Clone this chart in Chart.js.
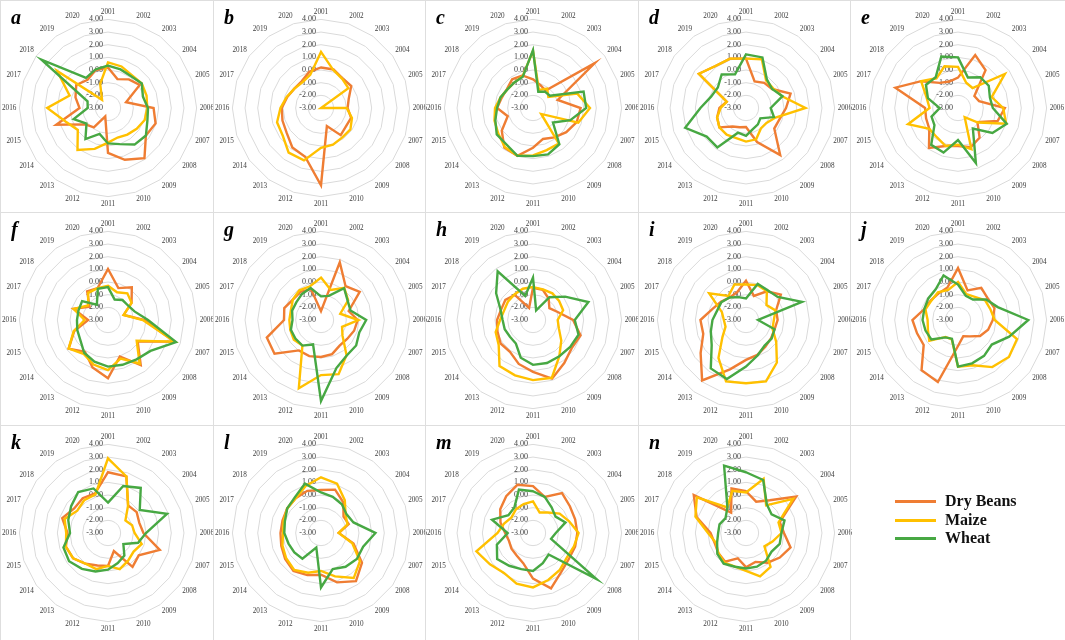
<!DOCTYPE html>
<html>
<head>
<meta charset="utf-8">
<script src="https://cdn.jsdelivr.net/npm/chart.js@4.4.1/dist/chart.umd.min.js"></script>
<style>
  body { margin: 0; background: #fff; }
  #wrap { position: relative; width: 1065px; height: 640px; overflow: hidden; background: #fff; }
  .cell { position: absolute; box-sizing: border-box; border: 1px solid #dedede; }
  .cell canvas { position: absolute; left: -1px; top: -1px; }
  .tag { position: absolute; left: 10px; top: 6px; font: italic bold 20px/20px "Liberation Serif", serif; color: #000; }
  .key { position: absolute; left: 44px; height: 20px; font: bold 16px/20px "Liberation Serif", serif; color: #111; }
  .key span { position: absolute; left: 0; top: 9px; width: 41px; height: 3px; }
  .key b { position: absolute; left: 50px; top: 0; white-space: nowrap; }
</style>
</head>
<body>
<div id="wrap"></div>
<script>
"use strict";

const years = ["2001", "2002", "2003", "2004", "2005", "2006", "2007", "2008", "2009", "2010",
  "2011", "2012", "2013", "2014", "2015", "2016", "2017", "2018", "2019", "2020"];
const seriesNames = ["Dry Beans", "Maize", "Wheat"];
const seriesColors = ["#ef7d33", "#ffc000", "#47a843"];
const tickValues = [-3, -2, -1, 0, 1, 2, 3, 4];

const beans_a = [0.2, -0.6, -0.2, 0.1, -1.5, 0.6, 0.95, 0.7, 1.9, 1.3, 0.55, -2.3, -1.1, -0.8, 1.3, -0.75, -0.3, 0.1, -0.25, 0.15];
const maize_a = [0.6, 0.45, 0.2, 0.3, 0.2, 0.1, 0.05, -0.2, -0.4, -0.55, -0.27, 0.4, 1.1, -0.05, 0.5, 1.8, 0.19, 1.97, -2.2, -1.0];
const wheat_a = [0.35, 0.2, 0.1, 0.3, -0.1, 0.16, 0.27, 0.7, 0.57, 0.0, -0.2, -0.85, 0.03, -0.9, -0.15, -1.4, -1.3, 3.5, -0.05, 0.2];

const beans_b = [0.2, 0.2, -0.1, -0.05, -0.7, -0.9, -0.5, -0.55, -0.35, -1.5, 3.1, 1.05, 0.85, 0.35, 0.2, 0.1, -0.2, -0.4, -0.4, 0.0];
const maize_b = [1.43, 0.15, -0.15, -0.33, -3.0, -0.97, -0.43, -0.13, -0.13, 0.05, 0.15, 1.35, 1.35, 0.73, 0.65, 0.2, -0.15, -0.4, -0.5, -0.25];
const wheat_b = [];

const beans_c = [-0.73, -1.1, -1.3, 3.03, -0.95, 0.76, 0.63, 0.25, -0.13, -0.43, 0.14, 0.97, 0.86, 0.05, -0.9, -0.16, -0.4, -0.45, -0.2, -0.3];
const maize_c = [1.5, -1.5, -1.1, -1.5, 0.68, 1.5, 0.76, -2.2, 0.46, 0.5, 0.75, 0.97, 0.8, 0.4, 0.2, 0.0, -0.3, -0.5, -0.5, -0.35];
const wheat_c = [1.57, -1.65, -1.4, -1.35, 1.2, 1.2, 0.1, -1.05, 0.54, 0.85, 0.8, 0.97, 0.56, 0.54, 0.13, -0.16, -0.3, -0.5, -0.5, -0.4];

const beans_d = [0.9, -0.8, -0.55, -0.45, 0.7, 0.16, -0.2, -0.24, 1.6, -0.17, -1.5, -1.4, -1.2, -0.4, -0.6, -0.9, -1.4, 1.6, 1.1, 1.1];
const maize_d = [0.9, 1.05, -0.3, -0.35, 0.0, 1.7, -0.55, -1.0, -1.0, -0.4, -0.35, -0.5, -0.4, -0.4, -0.6, -1.0, -1.4, 1.6, 1.1, 1.1];
const wheat_d = [1.24, 1.2, -0.2, -0.45, 0.03, -1.05, -0.68, -1.6, -1.4, -1.25, -0.8, -0.95, 0.85, 0.84, 2.05, 0.6, -0.1, -0.25, 0.27, -0.2];

const beans_e = [-0.6, 1.4, 0.7, -1.4, -1.25, 0.7, 0.3, -1.1, -0.1, 0.25, 0.0, 0.16, 0.9, -0.2, -0.35, -0.4, 2.2, 0.6, -0.55, -0.8];
const maize_e = [0.25, -0.9, -1.05, 1.57, -0.2, 0.57, 1.0, -1.05, -2.1, 0.43, -0.1, 0.16, -0.15, -0.2, 1.15, -0.75, -0.4, 0.6, -0.1, 0.46];
const wheat_e = [1.0, -0.47, 0.0, 0.0, -0.35, -0.25, 1.05, 0.36, -1.0, 1.57, -0.47, 0.7, 0.6, -0.7, -0.8, -1.55, -0.5, 0.13, 0.0, 1.27];

const beans_f = [1.03, -0.35, 0.2, -0.7, -1.7, -0.1, 2.5, -0.1, 1.4, 0.03, 1.6, 0.95, 0.1, 0.84, -0.2, -1.43, -0.13, -1.2, -0.2, -0.35];
const maize_f = [-0.3, -0.7, -0.4, -0.7, -1.7, -0.25, 2.55, -0.2, 1.25, 0.2, 0.95, 0.7, 0.3, 0.84, -0.15, -1.15, -0.15, -1.05, -0.35, -0.35];
const wheat_f = [-0.4, -1.3, -1.05, -1.05, -0.8, 0.16, 2.65, 1.15, 0.84, 0.72, 0.68, 0.46, 0.2, -0.3, -0.45, -0.55, -0.55, -0.47, -1.5, -0.4];

const beans_g = [-2.3, 1.8, 0.3, 0.78, -0.7, -0.1, -0.25, -0.45, -0.5, -0.17, -0.08, 0.0, -0.03, 1.54, 1.5, -0.08, 0.05, -0.25, -0.25, -0.43];
const maize_g = [0.35, -0.5, 0.13, -0.35, -1.4, -0.05, -1.25, -0.9, 0.43, 1.5, 1.35, 2.67, -0.5, -0.35, -0.45, -0.5, -0.5, -0.25, -0.1, -0.2];
const wheat_g = [-1.13, -1.0, 0.1, -0.4, -0.55, 0.57, 0.18, 0.43, 0.46, 0.97, 3.4, -0.97, -0.5, -0.5, -0.5, -0.75, -0.6, -0.6, -0.45, -0.35];

const beans_h = [-0.45, -0.5, -0.9, -1.4, -0.95, 0.16, 0.95, 0.78, 1.2, 1.87, 1.1, 0.65, 0.1, 0.16, -0.05, -0.16, -0.35, -0.3, -0.55, -2.0];
const maize_h = [-0.4, -0.45, -0.4, -0.45, -0.5, -1.05, -0.85, -0.24, 0.54, 1.8, 1.75, 1.6, 1.5, 0.35, 0.1, -0.4, -0.6, -0.55, -0.5, -0.4];
const wheat_h = [0.35, -2.2, -0.78, 0.14, 1.6, 0.3, 0.78, 0.63, 0.54, 0.57, 0.54, 0.13, -0.7, -0.75, -0.65, -0.6, -0.3, 0.6, 1.75, -1.0];

const beans_i = [0.1, -1.0, -0.2, 0.4, -0.5, -0.5, -0.63, -0.55, -0.4, -0.1, 0.15, 1.1, 2.9, 1.43, 0.55, 0.6, -0.2, -0.55, -0.8, -0.7];
const maize_i = [-0.2, -0.1, -0.2, -1.0, -0.55, -0.8, -0.8, -0.05, 1.15, 2.1, 2.0, 2.1, 0.7, -0.7, -1.3, -1.25, -1.0, 0.6, -0.65, -0.05];
const wheat_i = [-1.3, 0.0, -0.1, 0.1, 1.65, -2.05, -0.63, -0.5, -0.5, -0.05, 0.68, 1.9, 1.73, 0.35, -0.08, -0.35, -0.6, -0.6, -0.8, -1.1];

const beans_j = [1.1, -0.55, 0.13, -0.1, 0.03, -0.25, -0.5, -0.85, -1.4, -1.65, -0.95, 2.15, 1.9, 0.35, 0.4, 0.6, -0.2, -0.35, -0.4, -0.3];
const maize_j = [0.0, -0.85, -0.75, -0.35, -0.3, -0.1, 1.9, 1.97, 1.6, 0.76, 0.68, -1.4, -1.35, -0.2, -0.5, -0.6, -0.3, -0.4, -0.3, -0.5];
const wheat_j = [-0.2, -1.0, -1.0, -0.25, 0.3, 2.55, 1.25, 0.3, 0.5, 0.6, 0.68, -1.45, -1.3, -0.4, -0.3, -0.2, -0.2, -0.1, 0.0, 0.7];

const beans_k = [1.8, 1.7, -0.3, -0.2, -0.4, -0.2, 1.3, 0.0, 0.3, -1.5, -0.4, -0.3, 0.0, 0.4, 0.5, 0.2, 0.8, 0.3, 0.4, 0.3];
const maize_k = [2.9, 1.7, -0.3, -1.3, -1.0, -0.9, -0.2, -0.5, -0.3, 0.0, -0.4, 0.0, 0.0, 0.4, 0.5, 0.3, 0.6, 0.0, 0.2, 0.2];
const wheat_k = [-0.6, 0.9, 1.4, 0.1, 1.9, 0.0, -0.5, -1.5, -0.8, -0.5, -0.1, 0.2, 0.5, 0.8, 0.7, 0.0, 0.3, 0.6, 1.0, 0.7];

const beans_l = [0.4, 0.6, 0.0, -0.8, -0.7, -1.6, -0.3, 1.0, 1.7, 1.1, 0.3, 0.5, 0.7, 0.5, 0.3, 0.2, 0.2, 0.3, 0.4, 0.5];
const maize_l = [1.4, 1.1, 0.2, -0.6, -0.8, -1.6, -0.4, 0.8, 1.4, 0.6, 0.0, 0.3, 0.6, 0.4, 0.2, 0.0, 0.1, 0.3, 0.4, 0.9];
const wheat_l = [0.2, 0.0, -0.2, -0.5, -0.3, 1.3, 0.5, 0.5, 0.3, 0.0, 1.3, -1.8, -0.5, -0.4, -0.3, -0.1, 0.0, 0.3, 0.5, 1.1];

const beans_m = [0.7, 0.0, 0.9, 0.6, 0.5, 0.5, 0.5, 0.5, 0.8, 1.6, 0.6, -0.5, -0.8, -0.9, -1.0, -0.8, -0.3, 0.2, 0.6, 1.0];
const maize_m = [-0.5, -1.3, -1.0, -0.4, 0.0, 0.6, 0.4, 0.3, 0.6, 0.9, 1.3, 1.2, 0.9, 1.2, 1.7, -0.2, -0.6, -0.9, -0.7, -0.6];
const wheat_m = [0.3, 0.0, -0.5, -0.8, -0.3, -1.2, -1.5, 3.2, -0.9, -0.5, 0.0, 0.0, 0.2, 0.5, 0.0, -1.0, 0.4, -0.6, -0.5, 0.6];

const beans_n = [0.3, -0.4, 0.2, 1.9, -0.2, 0.0, 0.7, 0.3, -0.1, -0.6, -0.3, -0.9, -0.2, -0.3, -0.4, -0.2, 1.1, 2.1, -1.0, 0.7];
const maize_n = [0.2, 1.5, -0.3, 1.6, -0.3, -0.2, -0.8, -1.2, 0.3, 0.6, 0.0, -0.2, -0.1, -0.3, -0.5, 0.0, 1.2, 1.8, -0.5, 0.5];
const wheat_n = [1.8, 1.4, -0.2, -0.5, 0.2, -0.2, -0.2, -0.5, -0.3, -0.2, -0.2, -0.2, 0.0, -0.2, -0.6, -0.8, -0.8, -1.0, -0.5, 2.6];

const panels = [
  ["a", beans_a, maize_a, wheat_a], ["b", beans_b, maize_b, wheat_b],
  ["c", beans_c, maize_c, wheat_c], ["d", beans_d, maize_d, wheat_d],
  ["e", beans_e, maize_e, wheat_e], ["f", beans_f, maize_f, wheat_f],
  ["g", beans_g, maize_g, wheat_g], ["h", beans_h, maize_h, wheat_h],
  ["i", beans_i, maize_i, wheat_i], ["j", beans_j, maize_j, wheat_j],
  ["k", beans_k, maize_k, wheat_k], ["l", beans_l, maize_l, wheat_l],
  ["m", beans_m, maize_m, wheat_m], ["n", beans_n, maize_n, wheat_n],
];

const colX = [0, 213, 425, 638, 850, 1065];
const rowY = [0, 212, 425, 640];
const wrap = document.getElementById("wrap");

// excel-style value labels, just left of the vertical axis
const tickLabels = {
  id: "tickLabels",
  beforeDatasetsDraw(chart) {
    const s = chart.scales.r;
    const ctx = chart.ctx;
    ctx.save();
    ctx.font = '8px "Liberation Serif"';
    ctx.fillStyle = "#404040";
    ctx.textAlign = "right";
    ctx.textBaseline = "middle";
    tickValues.forEach((v) => {
      const y = s.yCenter - s.getDistanceFromCenterForValue(v);
      ctx.fillText(v.toFixed(2), s.xCenter - 5, y);
    });
    ctx.restore();
  },
};

function makeCell(col, row) {
  const cell = document.createElement("div");
  cell.className = "cell";
  cell.style.left = colX[col] + "px";
  cell.style.top = rowY[row] + "px";
  cell.style.width = colX[col + 1] - colX[col] + 1 + "px";
  cell.style.height = rowY[row + 1] - rowY[row] + 1 + "px";
  wrap.appendChild(cell);
  return cell;
}

panels.forEach((p, idx) => {
  const cell = makeCell(idx % 5, Math.floor(idx / 5));
  const canvas = document.createElement("canvas");
  canvas.width = 216;
  canvas.height = 217;
  cell.appendChild(canvas);
  const tag = document.createElement("div");
  tag.className = "tag";
  tag.textContent = p[0];
  cell.appendChild(tag);

  const datasets = [];
  for (let s = 0; s < 3; s++) {
    if (!p[s + 1].length) continue;
    datasets.push({
      label: seriesNames[s],
      data: p[s + 1],
      borderColor: seriesColors[s],
      backgroundColor: seriesColors[s],
      borderWidth: 2.4,
      fill: false,
      pointRadius: 0,
      tension: 0,
      order: 3 - s,
    });
  }

  new Chart(canvas, {
    type: "radar",
    data: { labels: years, datasets: datasets },
    options: {
      responsive: false,
      animation: false,
      layout: { padding: 2 },
      plugins: { legend: { display: false }, tooltip: { enabled: false } },
      scales: {
        r: {
          min: -3,
          max: 4,
          ticks: { stepSize: 1, display: false },
          grid: { color: "#dadada", lineWidth: 1 },
          angleLines: { display: false },
          pointLabels: {
            color: "#404040",
            padding: 3,
            font: { family: "Liberation Serif", size: 7.2 },
          },
        },
      },
    },
    plugins: [tickLabels],
  });
});

// shared legend in the last cell
const legendCell = makeCell(4, 2);
seriesNames.forEach((name, s) => {
  const row = document.createElement("div");
  row.className = "key";
  row.style.top = 65 + s * 18.5 + "px";
  const line = document.createElement("span");
  line.style.background = seriesColors[s];
  const txt = document.createElement("b");
  txt.textContent = name;
  row.appendChild(line);
  row.appendChild(txt);
  legendCell.appendChild(row);
});
</script>
</body>
</html>
